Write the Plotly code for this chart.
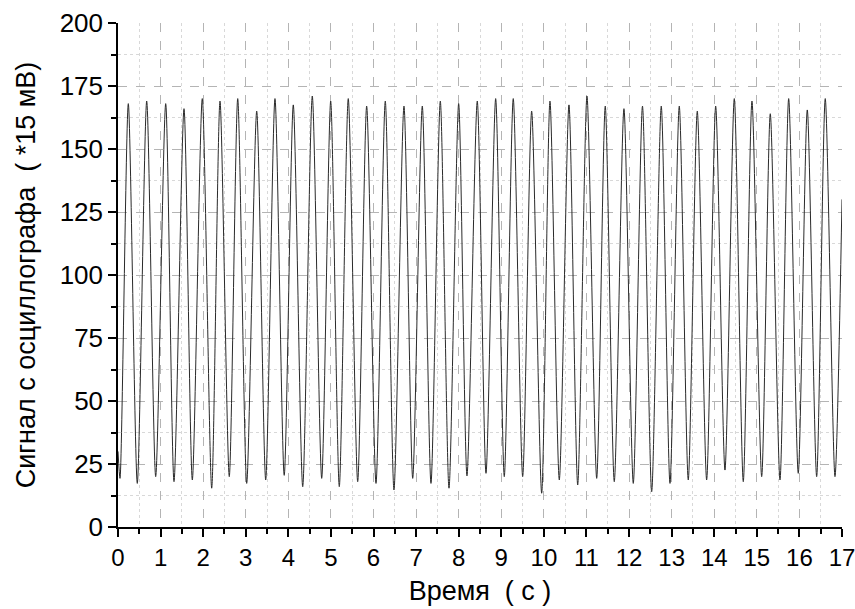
import plotly.graph_objects as go

# ---------------------------------------------------------
# Data (seconds, units of 15 mV)
# ---------------------------------------------------------
start_time = [0.0]
start_value = [30]

trough_times = [
    0.047, 0.453, 0.885, 1.315, 1.745, 2.200, 2.613, 3.022, 3.468, 3.903,
    4.337, 4.783, 5.196, 5.628, 6.058, 6.480, 6.920, 7.349, 7.772, 8.194,
    8.641, 9.070, 9.502, 9.948, 10.362, 10.794, 11.240, 11.653, 12.099, 12.531,
    12.961, 13.390, 13.822, 14.252, 14.682, 15.114, 15.544, 15.973, 16.405, 16.835,
]
trough_values = [
    19.3, 17.3, 20.0, 18.0, 18.7, 15.4, 20.0, 17.3, 18.7, 20.5,
    16.0, 19.3, 16.0, 18.0, 17.3, 14.7, 19.3, 17.3, 15.4, 20.3,
    21.3, 20.0, 20.0, 13.4, 18.7, 16.7, 19.3, 18.0, 17.3, 14.0,
    17.3, 18.7, 18.7, 22.6, 18.0, 20.0, 18.7, 21.3, 20.0, 20.0,
]

peak_times = [
    0.242, 0.674, 1.120, 1.550, 1.979, 2.395, 2.811, 3.257, 3.686, 4.116,
    4.562, 4.994, 5.407, 5.839, 6.276, 6.715, 7.145, 7.568, 7.999, 8.436,
    8.868, 9.281, 9.713, 10.143, 10.589, 11.012, 11.441, 11.880, 12.315, 12.756,
    13.179, 13.602, 14.034, 14.471, 14.886, 15.316, 15.748, 16.185, 16.607,
]
peak_values = [
    168.0, 169.0, 168.0, 166.0, 170.0, 169.0, 170.0, 165.0, 170.0, 167.5,
    171.0, 169.0, 170.0, 167.0, 169.0, 167.0, 167.0, 169.0, 168.0, 169.0,
    170.0, 170.0, 165.0, 169.0, 167.5, 171.0, 167.0, 166.0, 167.0, 167.0,
    167.0, 165.0, 167.0, 170.0, 169.0, 164.0, 170.0, 165.5, 170.0,
]

end_time = [17.0]
end_value = [130]

# merge troughs and peaks into one ordered trace
time = list(start_time)
signal = list(start_value)
for i in range(len(trough_times)):
    time.append(trough_times[i])
    signal.append(trough_values[i])
    if i < len(peak_times):
        time.append(peak_times[i])
        signal.append(peak_values[i])
time += end_time
signal += end_value

# ---------------------------------------------------------
# Figure
# ---------------------------------------------------------
fig = go.Figure()
fig.add_trace(go.Scatter(
    x=time,
    y=signal,
    mode="lines",
    line=dict(color="#2a2a2a", width=1, shape="spline", smoothing=0.75),
    showlegend=False,
))

font_family = "Liberation Sans, Arial, sans-serif"
major_grid = "#b4b4b4"
minor_grid = "#d8d8d8"


def axis_style(rng, step, minor_step, title, tick_size, title_size, standoff):
    return dict(
        range=rng,
        automargin=False,
        tickmode="linear",
        tick0=0,
        dtick=step,
        ticks="outside",
        ticklen=8,
        tickwidth=1.5,
        tickcolor="#000000",
        ticklabeloverflow="allow",
        showline=True,
        linecolor="#000000",
        linewidth=1.5,
        showgrid=True,
        gridcolor=major_grid,
        griddash="dash",
        gridwidth=1,
        zeroline=False,
        tickfont=dict(size=tick_size),
        title=dict(text=title, font=dict(size=title_size), standoff=standoff),
        minor=dict(
            dtick=minor_step,
            ticks="outside",
            ticklen=5,
            tickwidth=1.5,
            tickcolor="#000000",
            showgrid=True,
            gridcolor=minor_grid,
            griddash="dot",
            gridwidth=1,
        ),
    )


fig.update_layout(
    width=855,
    height=609,
    paper_bgcolor="#ffffff",
    plot_bgcolor="#ffffff",
    font=dict(family=font_family, size=26, color="#000000"),
    margin=dict(l=118, r=13, t=23, b=82),
    xaxis=axis_style([0, 17], 1, 0.5, "Время  ( с )", 24, 27, 12),
    yaxis=axis_style([0, 200], 25, 12.5, "Сигнал с осциллографа  ( *15 мВ)", 26, 27, 16),
)

# page body margin off so the figure fills the window exactly
fig.write_html(
    "out.html",
    config={"displayModeBar": False},
    post_script="document.body.style.margin='0';",
)
